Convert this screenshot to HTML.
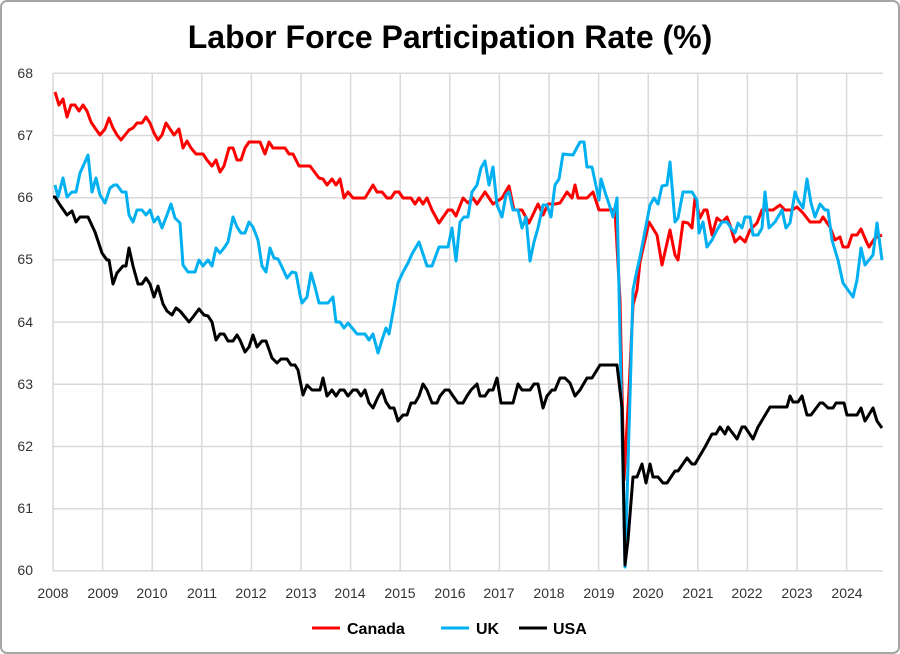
<!DOCTYPE html>
<html><head><meta charset="utf-8"><style>
body{margin:0;background:#fff}
svg{display:block}
text{font-family:"Liberation Sans",sans-serif}
</style></head><body>
<svg width="900" height="654" viewBox="0 0 900 654" xmlns="http://www.w3.org/2000/svg">
<rect x="1" y="1" width="898" height="652" rx="6" fill="#fff" stroke="#a6a6a6" stroke-width="2"/>
<text x="450" y="48" text-anchor="middle" font-size="32" font-weight="bold" fill="#000">Labor Force Participation Rate (%)</text>
<g stroke="#d9d9d9" stroke-width="1.5" fill="none">
<path d="M53 73.3H883M53 135.5H883M53 197.7H883M53 259.9H883M53 322.1H883M53 384.3H883M53 446.5H883M53 508.7H883M53 570.9H883"/>
<path d="M53 73V571M102.6 73V571M152.2 73V571M201.8 73V571M251.4 73V571M301 73V571M350.6 73V571M400.2 73V571M449.8 73V571M499.4 73V571M549 73V571M598.6 73V571M648.2 73V571M697.8 73V571M747.4 73V571M797 73V571M846.6 73V571"/>
</g>
<g font-size="14" fill="#333" text-anchor="end">
<text x="33" y="78">68</text><text x="33" y="140">67</text><text x="33" y="202">66</text><text x="33" y="264">65</text><text x="33" y="327">64</text><text x="33" y="389">63</text><text x="33" y="451">62</text><text x="33" y="513">61</text><text x="33" y="575">60</text>
</g>
<g font-size="14" fill="#333" text-anchor="middle">
<text x="53" y="598">2008</text><text x="103" y="598">2009</text><text x="152" y="598">2010</text><text x="202" y="598">2011</text><text x="251" y="598">2012</text><text x="301" y="598">2013</text><text x="350" y="598">2014</text><text x="400" y="598">2015</text><text x="450" y="598">2016</text><text x="499" y="598">2017</text><text x="549" y="598">2018</text><text x="599" y="598">2019</text><text x="648" y="598">2020</text><text x="698" y="598">2021</text><text x="747" y="598">2022</text><text x="797" y="598">2023</text><text x="847" y="598">2024</text>
</g>
<g fill="none" stroke-width="3" stroke-linejoin="round">
<polyline stroke="#ff0000" points="55,92 59,105 63,99 67,117 71,105 75,105 79,111 83,105 87,111 91,122 95,128 100,135 105,129 109,118 113,128 117,135 121,140 125,135 129,130 133,128 137,123 142,123 146,117 150,123 154,133 158,140 162,135 166,123 170,129 174,135 179,129 183,148 187,141 191,148 196,154 203,154 207,160 212,166 216,160 220,172 224,166 229,148 233,148 237,160 241,160 245,148 249,142 260,142 265,154 269,142 273,148 285,148 289,154 293,154 299,166 310,166 319,178 323,179 327,185 332,179 336,185 340,179 344,198 348,192 353,198 365,198 373,185 377,192 382,192 387,198 391,198 395,192 399,192 403,198 411,198 415,204 419,198 423,204 427,198 432,210 439,223 448,210 452,210 456,216 463,198 468,203 473,198 477,204 485,192 493,204 502,198 509,186 514,210 522,210 529,223 538,204 543,215 548,204 555,204 560,203 567,192 572,198 575,185 578,198 587,198 593,192 599,210 610,210 615,210 620,300 624,480 629,390 633,305 637,290 640,262 649,222 657,235 662,265 670,230 675,255 678,260 683,222 688,223 692,228 695,198 700,218 704,210 707,210 712,235 717,218 722,222 727,217 730,225 735,242 740,237 745,242 750,230 757,223 762,210 773,210 780,205 785,210 792,210 797,207 803,213 810,222 820,222 823,217 830,227 835,240 840,237 843,247 848,247 852,235 857,235 861,229 867,243 869,247 875,238 882,235"/>
<polyline stroke="#00b0f0" points="55,185 58,197 63,178 67,197 72,192 76,192 80,173 85,162 88,155 92,192 96,178 100,195 105,203 110,188 114,185 117,185 122,192 126,192 129,215 133,222 137,210 142,210 146,215 150,210 154,222 158,217 162,228 167,215 171,204 175,218 180,223 183,265 188,272 195,272 199,260 203,266 208,260 212,266 216,248 220,253 224,248 228,242 233,217 237,227 241,233 245,233 249,222 253,227 258,240 262,266 266,272 270,248 274,258 278,259 282,267 287,278 292,272 296,273 300,295 302,303 307,297 311,273 315,287 319,303 328,303 333,297 336,322 340,322 344,328 348,323 353,329 357,334 365,334 369,340 373,334 378,353 382,340 386,328 389,334 393,312 398,283 403,272 408,263 412,254 419,242 427,266 432,266 439,247 448,247 452,228 456,261 460,222 464,217 468,217 472,192 477,185 481,168 485,161 489,185 493,167 497,205 502,217 506,195 509,192 513,210 518,210 522,228 526,217 530,261 534,242 538,228 543,205 547,205 551,217 555,185 559,179 563,154 573,155 580,142 584,142 587,167 592,167 599,200 601,179 605,192 610,207 613,217 617,198 625,567 630,397 633,290 637,270 640,257 650,205 654,198 658,204 662,186 667,185 670,162 675,222 678,218 683,192 692,192 697,200 699,233 703,222 707,247 712,240 717,230 722,222 727,222 731,228 735,233 738,223 742,228 745,217 750,217 753,235 758,235 762,228 765,192 769,228 775,222 782,210 786,228 790,223 795,192 798,200 803,208 807,179 811,203 815,217 820,204 825,210 828,210 832,240 838,260 843,283 853,297 857,280 861,248 865,265 873,255 877,223 882,260"/>
<polyline stroke="#000" points="53,197 55,197 60,205 67,215 72,211 76,222 80,217 88,217 95,232 102,253 107,260 109,260 113,284 117,273 123,266 126,266 129,248 133,266 138,284 142,284 146,278 150,284 154,297 158,286 163,304 167,311 172,315 176,308 180,311 185,317 189,322 193,317 199,309 204,315 208,316 212,322 216,340 220,334 224,334 228,341 233,341 237,335 240,340 245,352 249,347 253,335 257,347 262,341 266,341 272,358 277,363 281,359 287,359 291,365 295,365 298,370 303,395 307,385 312,390 320,390 323,378 327,396 332,390 336,396 340,390 344,390 348,396 353,390 357,390 361,396 365,390 369,403 373,408 378,397 382,390 386,402 390,408 394,408 398,421 403,415 407,415 411,403 415,403 419,396 423,384 427,390 432,403 437,403 440,396 445,390 449,390 453,396 458,403 463,403 467,396 471,390 477,384 480,396 485,396 489,390 493,390 497,378 501,403 513,403 518,384 522,390 530,390 534,384 538,384 543,408 547,396 552,390 555,390 560,378 565,378 570,383 575,396 580,390 587,378 592,378 600,365 617,365 622,407 625,565 628,540 633,477 637,477 642,464 646,483 650,464 653,477 658,477 663,483 667,483 675,471 678,471 687,458 692,464 695,464 705,447 712,434 716,434 720,427 725,434 728,427 737,439 742,427 745,427 753,439 758,427 770,407 787,407 790,396 793,402 798,402 802,396 807,415 811,415 820,403 823,403 828,408 833,408 836,403 844,403 847,415 857,415 861,408 865,421 873,408 877,421 882,428"/>
</g>
<g stroke-width="3">
<line x1="312" y1="628" x2="340" y2="628" stroke="#ff0000"/>
<line x1="441" y1="628" x2="469" y2="628" stroke="#00b0f0"/>
<line x1="519" y1="628" x2="547" y2="628" stroke="#000"/>
</g>
<g font-size="16" font-weight="bold" fill="#000">
<text x="347" y="634">Canada</text>
<text x="476" y="634">UK</text>
<text x="553" y="634">USA</text>
</g>
</svg>
</body></html>
